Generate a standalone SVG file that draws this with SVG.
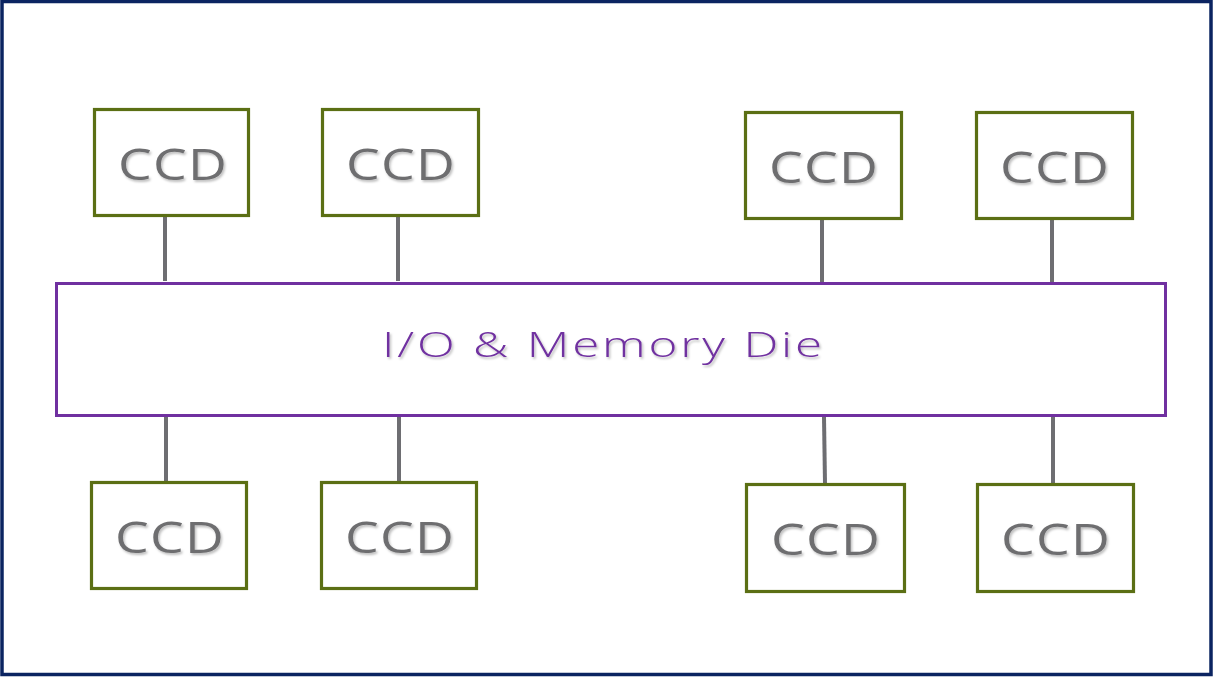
<svg xmlns="http://www.w3.org/2000/svg" width="1213" height="677" viewBox="0 0 1213 677">
<defs>
<filter id="sh" x="-10%" y="-20%" width="130%" height="160%">
<feDropShadow dx="1.5" dy="2" stdDeviation="1.2" flood-color="#000" flood-opacity="0.25"/>
</filter>
<style>
.ccd rect{fill:#fff;stroke:#5b6f14;stroke-width:3.2}
.ccd text{font-family:"Open Sans","Liberation Sans",sans-serif;font-weight:400;font-size:43px;letter-spacing:1px;fill:#6e6e70;text-anchor:middle;filter:url(#sh)}
.conn line{stroke:#6e6e72;stroke-width:4}
.die rect{fill:#fff;stroke:#7030a0;stroke-width:3}
.die text{font-family:"Open Sans","Liberation Sans",sans-serif;font-weight:300;font-size:35px;letter-spacing:2px;fill:#7030a0;text-anchor:middle;filter:url(#sh)}
</style>
</defs>
<rect x="0" y="0" width="1213" height="677" fill="#fff"/>
<rect x="2" y="1.5" width="1209" height="673" fill="none" stroke="#0b2461" stroke-width="3.5"/>
<g class="conn">
<line x1="165" y1="217" x2="165" y2="281"/>
<line x1="398" y1="217" x2="398" y2="281"/>
<line x1="822" y1="219" x2="822" y2="282"/>
<line x1="1052" y1="219" x2="1052" y2="282"/>
<line x1="166" y1="416" x2="166" y2="481"/>
<line x1="399" y1="416" x2="399" y2="481"/>
<line x1="824" y1="417" x2="825" y2="484"/>
<line x1="1053" y1="417" x2="1053" y2="484"/>
</g>
<g id="die" class="die">
<rect x="56.5" y="283.5" width="1109" height="132"/>
<text x="603.5" y="357" textLength="443" lengthAdjust="spacingAndGlyphs">I/O &amp; Memory Die</text>
</g>
<g id="ccd1" class="ccd"><rect x="94.5" y="109.5" width="154" height="106"/><text x="173" y="180" textLength="110" lengthAdjust="spacingAndGlyphs">CCD</text></g>
<g id="ccd2" class="ccd"><rect x="322.5" y="109.5" width="156" height="106"/><text x="401" y="180" textLength="110" lengthAdjust="spacingAndGlyphs">CCD</text></g>
<g id="ccd3" class="ccd"><rect x="745.5" y="112.5" width="156" height="106"/><text x="824" y="183" textLength="110" lengthAdjust="spacingAndGlyphs">CCD</text></g>
<g id="ccd4" class="ccd"><rect x="976.5" y="112.5" width="156" height="106"/><text x="1055" y="183" textLength="110" lengthAdjust="spacingAndGlyphs">CCD</text></g>
<g id="ccd5" class="ccd"><rect x="91.5" y="482.5" width="155" height="106"/><text x="170" y="553" textLength="110" lengthAdjust="spacingAndGlyphs">CCD</text></g>
<g id="ccd6" class="ccd"><rect x="321.5" y="482.5" width="155" height="106"/><text x="400" y="553" textLength="110" lengthAdjust="spacingAndGlyphs">CCD</text></g>
<g id="ccd7" class="ccd"><rect x="746.5" y="484.5" width="158" height="107"/><text x="826" y="555" textLength="110" lengthAdjust="spacingAndGlyphs">CCD</text></g>
<g id="ccd8" class="ccd"><rect x="977.5" y="484.5" width="156" height="107"/><text x="1056" y="555" textLength="110" lengthAdjust="spacingAndGlyphs">CCD</text></g>
</svg>
